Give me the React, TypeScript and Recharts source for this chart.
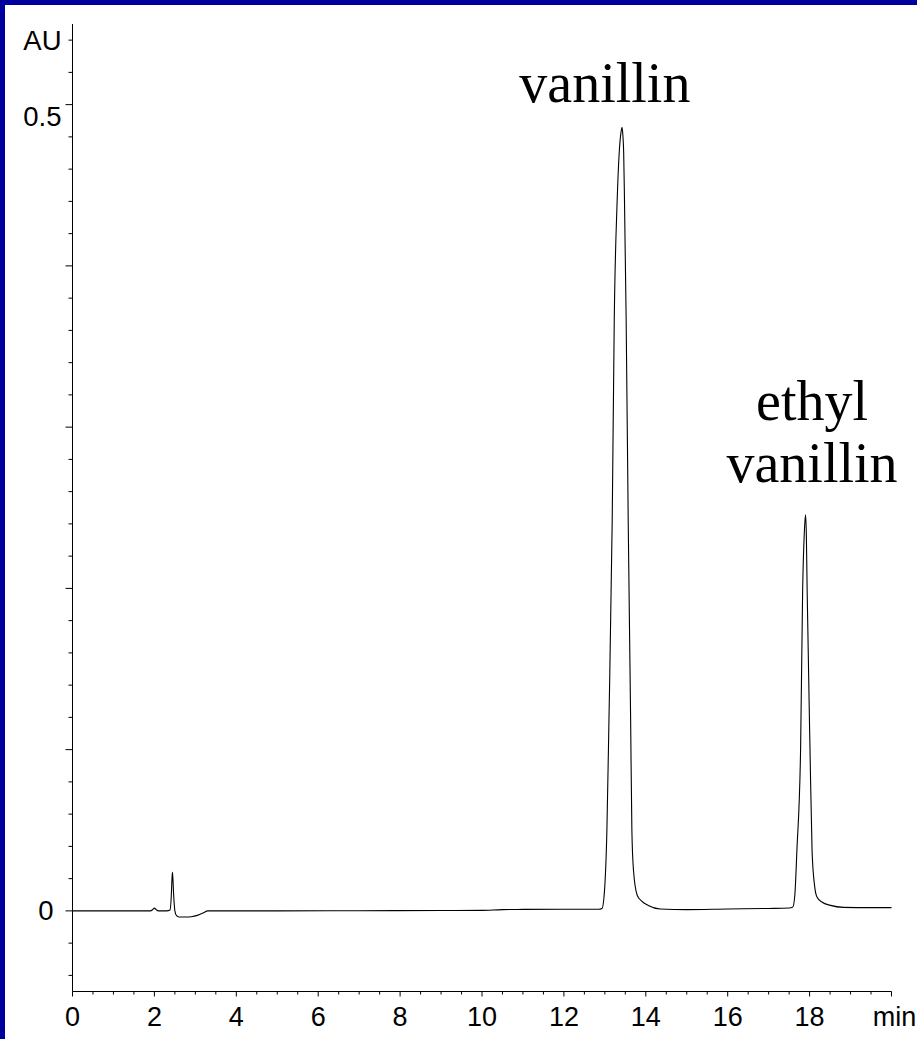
import React from 'react';
import { LineChart, Line, XAxis, YAxis, ReferenceDot } from 'recharts';

// retention time (min) and detector response (AU)
const retentionTimes = [
  0, 1.9, 1.96, 2.0, 2.04, 2.1, 2.3, 2.38, 2.41, 2.43, 2.44, 2.45, 2.47, 2.5, 2.54, 2.6, 2.75, 2.9, 3.05, 3.2, 3.3,
  5, 7, 9, 10, 10.5, 11, 12, 12.85, 12.93, 12.99, 13.05, 13.1, 13.18, 13.23, 13.3, 13.35, 13.39, 13.42, 13.44,
  13.46, 13.48, 13.52, 13.57, 13.63, 13.66, 13.7, 13.79, 13.9, 14.06, 14.35, 15, 16, 17, 17.5, 17.59, 17.64,
  17.69, 17.78, 17.83, 17.87, 17.9, 17.92, 17.94, 18.01, 18.06, 18.12, 18.18, 18.3, 18.51, 18.83, 19.5, 20,
];
const absorbance = [
  0, 0, 0.0008, 0.0017, 0.0008, 0, 0, 0.0005, 0.008, 0.02, 0.024, 0.021, 0.01, 0, -0.003, -0.0038, -0.0038,
  -0.0036, -0.0028, -0.0012, 0,
  0, 0.0001, 0.0002, 0.0003, 0.0008, 0.0009, 0.001, 0.001, 0.0015, 0.012, 0.05, 0.118, 0.2425, 0.367, 0.44, 0.47,
  0.482, 0.486, 0.481, 0.47, 0.44, 0.367, 0.2425, 0.118, 0.05, 0.025, 0.0097, 0.006, 0.0034, 0.0012, 0.0008,
  0.0012, 0.0015, 0.0018, 0.0024, 0.01, 0.0376, 0.1, 0.199, 0.234, 0.2457, 0.234, 0.199, 0.1, 0.0376, 0.016,
  0.0086, 0.0055, 0.0034, 0.0022, 0.002, 0.002,
];

const xTicks = [
  0, 0.5, 1, 1.5, 2, 2.5, 3, 3.5, 4, 4.5, 5, 5.5, 6, 6.5, 7, 7.5, 8, 8.5, 9, 9.5, 10, 10.5, 11, 11.5, 12, 12.5,
  13, 13.5, 14, 14.5, 15, 15.5, 16, 16.5, 17, 17.5, 18, 18.5, 19, 19.5, 20,
];
const yTicks = [
  -0.04, -0.02, 0, 0.02, 0.04, 0.06, 0.08, 0.1, 0.12, 0.14, 0.16, 0.18, 0.2, 0.22, 0.24, 0.26, 0.28, 0.3, 0.32,
  0.34, 0.36, 0.38, 0.4, 0.42, 0.44, 0.46, 0.48, 0.5, 0.52, 0.54,
];
const xLabels: Record<string, string> = {
  '0': '0', '2': '2', '4': '4', '6': '6', '8': '8', '10': '10', '12': '12', '14': '14', '16': '16', '18': '18', '20': 'min',
};
const yLabels: Record<string, string> = { '0': '0', '0.5': '0.5', '0.54': 'AU' };

const peakNames = [
  { time: 13.0, level: 0.5016, lines: ['vanillin'] },
  { time: 18.06, level: 0.3045, lines: ['ethyl', 'vanillin'] },
];

const data = retentionTimes.map((t, i) => ({ t, au: absorbance[i] }));

const sans = "Arial, 'Liberation Sans', sans-serif";
const serif = "'Times New Roman', 'Liberation Serif', serif";

const isMajorY = (v: number) => Math.abs(v * 10 - Math.round(v * 10)) < 1e-6;

const YTick = (props: any) => {
  const { x, y, payload } = props;
  const v = payload.value as number;
  const label = yLabels[String(v)];
  let right = x - 11;
  let dy = 10;
  if (label === '0') { right = x - 19; dy = 9; }
  if (label === '0.5') dy = 21;
  return (
    <g>
      <line x1={x} y1={y} x2={x - (isMajorY(v) ? 7 : 4)} y2={y} stroke="#000" strokeWidth={1} />
      {label && (
        <text x={right} y={y + dy} textAnchor="end" fontFamily={sans} fontSize={27.5} fill="#000">{label}</text>
      )}
    </g>
  );
};

const XTick = (props: any) => {
  const { x, y, payload } = props;
  const v = payload.value as number;
  const label = xLabels[String(v)];
  const major = v % 2 === 0;
  return (
    <g>
      <line x1={x} y1={y} x2={x} y2={y + (major ? 5 : 3)} stroke="#000" strokeWidth={1} />
      {label && (
        <text x={label === 'min' ? x + 3 : x} y={y + 34} textAnchor="middle" fontFamily={sans} fontSize={27} fill="#000">
          {label}
        </text>
      )}
    </g>
  );
};

const nameLabel = (lines: string[]) => (props: any) => {
  const { x, y } = props.viewBox;
  return (
    <text x={x} y={y} textAnchor="middle" fontFamily={serif} fontSize={56} fill="#000">
      {lines.map((ln, i) => (
        <tspan key={ln + i} x={x} dy={i === 0 ? 0 : 62}>{ln}</tspan>
      ))}
    </text>
  );
};

export default function App() {
  return (
    <div style={{ position: 'absolute', left: 0, top: 0, width: 917, height: 1039, background: '#00009C' }}>
      <div style={{ position: 'absolute', left: 5, top: 5, right: 0, bottom: 0, background: '#fff' }} />
      <div style={{ position: 'absolute', left: 0, top: 0 }}>
        <LineChart width={917} height={1039} data={data} margin={{ top: 24, right: 25.5, bottom: 0, left: 0 }}>
          <XAxis
            dataKey="t"
            type="number"
            domain={[0, 20]}
            ticks={xTicks}
            interval={0}
            tickSize={0}
            tickMargin={0}
            tickLine={false}
            height={47.5}
            axisLine={{ stroke: '#000', strokeWidth: 1 }}
            tick={<XTick />}
          />
          <YAxis
            type="number"
            domain={[-0.05, 0.55]}
            ticks={yTicks}
            interval={0}
            tickSize={0}
            tickMargin={0}
            tickLine={false}
            width={72.5}
            axisLine={{ stroke: '#000', strokeWidth: 1 }}
            tick={<YTick />}
          />
          <Line
            type="monotone"
            dataKey="au"
            stroke="#000"
            strokeWidth={1.1}
            dot={false}
            isAnimationActive={false}
          />
          {peakNames.map((p) => (
            <ReferenceDot
              key={p.lines.join(' ')}
              x={p.time}
              y={p.level}
              r={0}
              fill="none"
              stroke="none"
              label={nameLabel(p.lines)}
            />
          ))}
        </LineChart>
      </div>
    </div>
  );
}
